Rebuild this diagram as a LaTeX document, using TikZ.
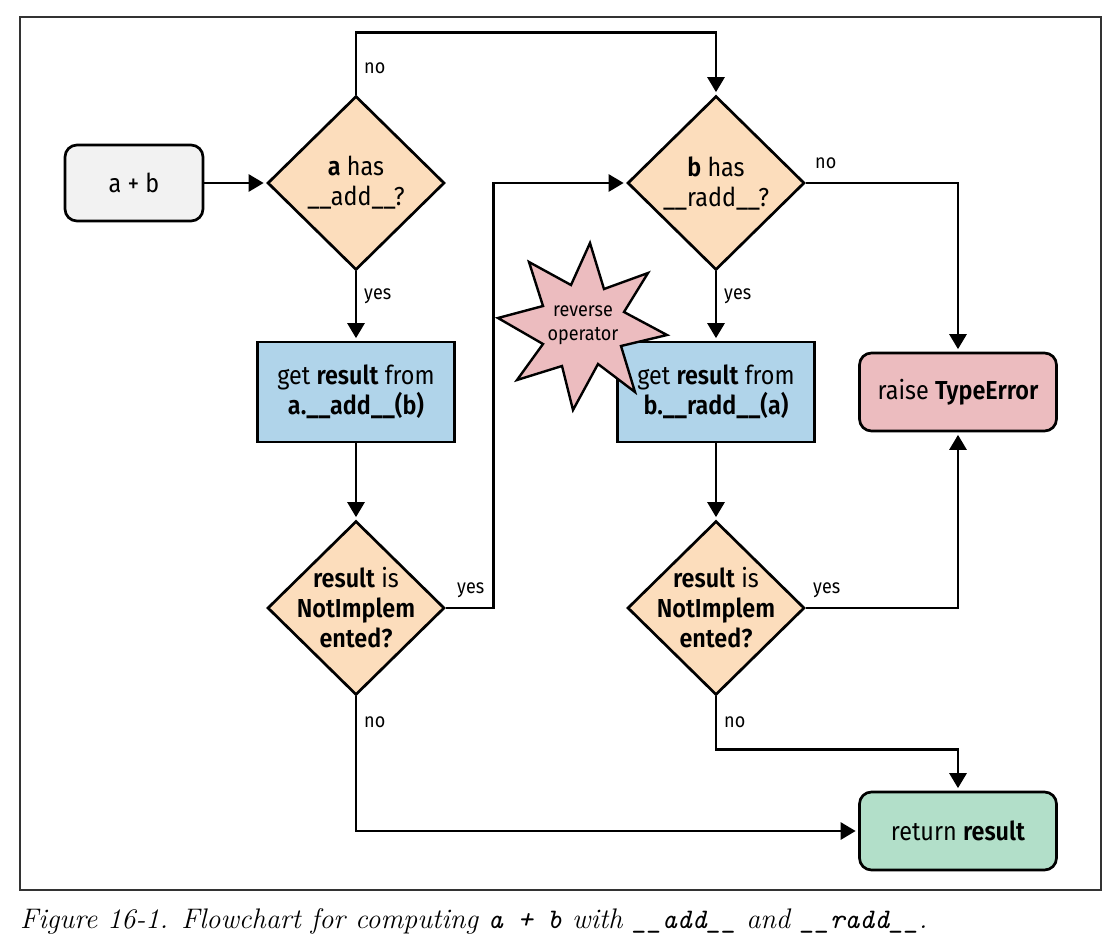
\documentclass[tikz,border=0pt]{standalone}
\usepackage{fontspec}
\usetikzlibrary{shapes.geometric,arrows.meta}
\newfontfamily\diagfont{Fira Sans}[BoldFont={Fira Sans SemiBold}, FakeStretch=0.9]
\definecolor{greybox}{HTML}{F2F2F2}
\definecolor{peach}{HTML}{FCDDBC}
\definecolor{lblue}{HTML}{B0D4EA}
\definecolor{lpink}{HTML}{ECBCBF}
\definecolor{lgreen}{HTML}{B2DFC9}
\begin{document}
\begin{tikzpicture}[x=1pt,y=-1pt,
  txt/.style={font=\diagfont\fontsize{26}{30}\selectfont, align=center},
  box/.style={draw, line width=2.7pt, minimum width=197pt, minimum height=100pt, inner sep=0pt, txt},
  rbox/.style={box, rounded corners=12pt, minimum height=78pt},
  dia/.style={draw, diamond, line width=2.7pt, fill=peach, minimum width=177pt, minimum height=174pt, inner sep=0pt},
  arr/.style={line width=2.8pt, shorten >=2.5pt, -{Triangle[length=15pt,width=17pt]}},
  lab/.style={anchor=west, font=\diagfont\fontsize{20}{23}\selectfont, inner sep=0pt},
]
\useasboundingbox (0,0) rectangle (1119,943);
\fill[white] (0,0) rectangle (1119,943);
\draw[line width=1.5pt, black!80] (20,17) rectangle (1101,890);

% nodes
\node[rbox, fill=greybox, minimum width=138pt, minimum height=76pt] (ab) at (134,183) {a + b};
\node[dia, label={[txt]center:{\textbf{a} has\\\_\_add\_\_?}}] (d1) at (356,183) {};
\node[dia, label={[txt]center:{\textbf{b} has\\\_\_radd\_\_?}}] (d2) at (716,183) {};
\node[box, fill=lblue] (b1) at (356,392) {get \textbf{result} from\\\textbf{a.\_\_add\_\_(b)}};
\node[box, fill=lblue] (b2) at (716,392) {};
\node[dia, label={[txt]center:{\textbf{result} is\\\textbf{NotImplem}\\\textbf{ented?}}}] (d3) at (356,608) {};
\node[dia, label={[txt]center:{\textbf{result} is\\\textbf{NotImplem}\\\textbf{ented?}}}] (d4) at (716,608) {};
\node[rbox, fill=lpink] (err) at (958,392) {raise \textbf{TypeError}};
\node[rbox, fill=lgreen] (ret) at (958,831) {return \textbf{result}};

% star
\draw[line width=2.4pt, fill=lpink, line join=miter]
  (590,243) -- (604,289) -- (648,273) -- (624,312) -- (667,335) -- (621,346)
  -- (635,392) -- (598,364) -- (573,410) -- (562,366) -- (517,380) -- (543,344)
  -- (498,318) -- (543,306) -- (529,262) -- (571,285) -- cycle;
\node[font=\diagfont\fontsize{20}{24}\selectfont, align=center, inner sep=0pt] (star) at (583,325) {reverse\\operator};
\node[txt, inner sep=0pt] (b2t) at (b2.center) {get \textbf{result} from\\\textbf{b.\_\_radd\_\_(a)}};

% connectors
\draw[arr] (ab.east) -- (d1.west);
\draw[arr] (d1.north) -- ++(0,-62) -| (d2.north);
\draw[arr] (d1.south) -- (b1.north);
\draw[arr] (b1.south) -- (d3.north);
\draw[arr] (d3.east) -- ++(48,0) |- (d2.west);
\draw[arr] (d3.south) |- (ret.west);
\draw[arr] (d2.east) -| (err.north);
\draw[arr] (d2.south) -- (b2.north);
\draw[arr] (b2.south) -- (d4.north);
\draw[arr] (d4.east) -| (err.south);
\draw[arr] (d4.south) -- ++(0,53) -| (ret.north);

% labels
\node[lab] (l1) at (364,68) {no};
\node[lab] (l2) at (364,296) {yes};
\node[lab] (l3) at (457,590) {yes};
\node[lab] (l4) at (364,722) {no};
\node[lab] (l5) at (815,163) {no};
\node[lab] (l6) at (724,296) {yes};
\node[lab] (l7) at (813,590) {yes};
\node[lab] (l8) at (724,722) {no};

% caption
\node[anchor=base west, inner sep=0pt, font=\fontsize{28.3}{33}\selectfont\itshape] (cap) at (20,928)
  {Figure 16-1. Flowchart for computing {\ttfamily a + b} with {\ttfamily \_\_add\_\_} and {\ttfamily \_\_radd\_\_}.};
\end{tikzpicture}
\end{document}
